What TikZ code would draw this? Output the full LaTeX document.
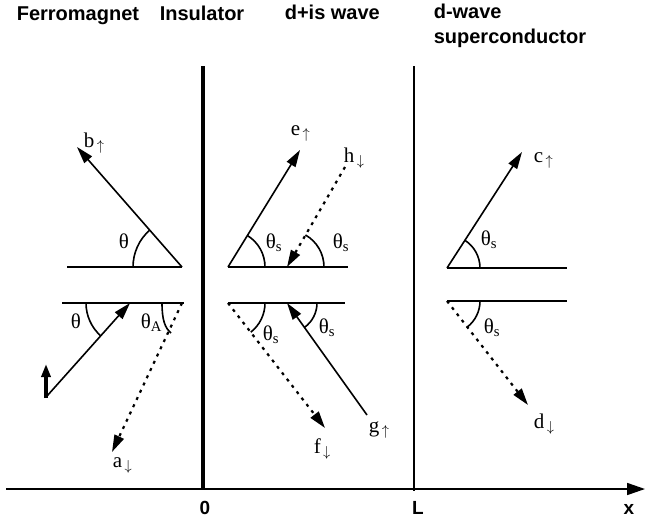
\documentclass[tikz,border=0pt]{standalone}
\usepackage{fontspec}
\setmainfont{Liberation Serif}
\setsansfont{Liberation Sans}
\usepackage{tikz}
\usetikzlibrary{arrows.meta}
\tikzset{
  ray/.style={-{Triangle[length=17pt,width=10pt]}, line width=1.6pt},
  dotted ray/.style={ray, line width=2.2pt, dash pattern=on 3pt off 5pt},
  spin/.style={-{Triangle[length=13pt,width=9pt]}, line width=4pt},
}
\newcommand{\spinup}{\textsubscript{\,$\uparrow$}}
\newcommand{\spindn}{\textsubscript{\,$\downarrow$}}

\begin{document}
\begin{tikzpicture}[x=1pt, y=1pt, line width=1.6pt,
    region/.style={font=\sffamily\bfseries\fontsize{20}{24}\selectfont,
                   anchor=base west, inner sep=0pt},
    axislbl/.style={font=\sffamily\bfseries\fontsize{19}{22}\selectfont,
                    inner sep=0pt},
    wave/.style={font=\fontsize{21}{24}\selectfont,
                 anchor=base west, inner sep=0pt}]
  \useasboundingbox (0,0) rectangle (645,-523);
  % Headings
  \node[region] (ferro) at (16,-20)  {Ferromagnet};
  \node[region] (insul) at (159,-20) {Insulator};
  \node[region] (dis)   at (284,-19) {d+is wave};
  \node[region] (dw)    at (433,-18) {d-wave};
  \node[region] (sc)    at (433,-43) {superconductor};
  % Axis and boundaries
  \coordinate (xstart)  at (6,-489);
  \coordinate (xend)    at (645,-489);
  \coordinate (ins top) at (203,-66);
  \coordinate (ins bot) at (203,-489);
  \coordinate (L top)   at (414,-66);
  \coordinate (L bot)   at (414,-491);
  \draw[-{Triangle[length=18pt,width=12pt]}] (xstart) -- (xend);
  \draw[line width=4pt] (ins top) -- (ins bot);
  \draw (L top) -- (L bot);
  \node[axislbl] (zero) at (205,-508) {0};
  \node[axislbl] (ell)  at (418,-508) {L};
  \node[axislbl] (xlbl) at (629,-509) {x};
  % Ferromagnet side
  \coordinate (F1) at (182,-267);
  \coordinate (F2) at (130,-303);
  \coordinate (F3) at (182,-303);
  \coordinate (btip) at (77,-147);
  \coordinate (ain)  at (47,-396);
  \coordinate (atip) at (112,-452);
  \coordinate (spintop) at (46,-364);
  \draw (67,-267) -- (F1);
  \draw (62,-303) -- (184,-303);
  \draw[ray] (F1) -- (btip);
  \draw[ray] (ain) -- (F2);
  \draw[dotted ray] (F3) -- (atip);
  \draw[spin] (46,-398) -- (spintop);
  \draw ([shift={(180:49)}]F1) arc[start angle=180, end angle=131, radius=49];
  \draw ([shift={(180:44)}]F2) arc[start angle=180, end angle=228, radius=44];
  \draw (162,-303) .. controls (162,-320) and (165,-328) .. (171,-333);
  \node[wave] (b)    at (83,-147)  {b\spinup};
  \node[wave] (th1)  at (118,-248) {θ};
  \node[wave] (th2)  at (70,-328)  {θ};
  \node[wave] (thA)  at (140,-328) {θ\textsubscript{A}};
  \node[wave] (a)    at (112,-467) {a\spindn};
  % d+is wave region
  \coordinate (S1) at (228,-267);
  \coordinate (S2) at (287,-267);
  \coordinate (S3) at (228,-303);
  \coordinate (S4) at (287,-303);
  \coordinate (etip) at (300,-150);
  \coordinate (hin)  at (345,-167);
  \coordinate (ftip) at (325,-428);
  \coordinate (gin)  at (367,-415);
  \draw (S1) -- (348,-267);
  \draw (S3) -- (345,-303);
  \draw[ray] (S1) -- (etip);
  \draw[dotted ray] (hin) -- (S2);
  \draw[dotted ray] (S3) -- (ftip);
  \draw[ray] (gin) -- (S4);
  \draw ([shift={(0:37)}]S1) arc[start angle=0, end angle=58, radius=37];
  \draw ([shift={(0:37)}]S2) arc[start angle=0, end angle=60, radius=37];
  \draw ([shift={(0:37)}]S3) arc[start angle=0, end angle=-52, radius=37];
  \draw ([shift={(0:30)}]S4) arc[start angle=0, end angle=-54, radius=30];
  \node[wave] (e)    at (290,-135) {e\spinup};
  \node[wave] (h)    at (343,-162) {h\spindn};
  \node[wave] (ths1) at (265,-248) {θ\textsubscript{s}};
  \node[wave] (ths2) at (332,-248) {θ\textsubscript{s}};
  \node[wave] (ths3) at (262,-340) {θ\textsubscript{s}};
  \node[wave] (ths4) at (318,-333) {θ\textsubscript{s}};
  \node[wave] (f)    at (313,-453) {f\spindn};
  \node[wave] (g)    at (368,-432) {g\spinup};
  % d-wave superconductor
  \coordinate (D1) at (447,-268);
  \coordinate (D2) at (447,-301);
  \coordinate (ctip) at (522,-152);
  \coordinate (dtip) at (528,-405);
  \draw (D1) -- (567,-268);
  \draw (D2) -- (567,-301);
  \draw[ray] (D1) -- (ctip);
  \draw[dotted ray] (D2) -- (dtip);
  \draw ([shift={(0:33)}]D1) arc[start angle=0, end angle=57, radius=33];
  \draw ([shift={(0:33)}]D2) arc[start angle=0, end angle=-52, radius=33];
  \node[wave] (c)    at (533,-162) {c\spinup};
  \node[wave] (ths5) at (480,-245) {θ\textsubscript{s}};
  \node[wave] (ths6) at (483,-333) {θ\textsubscript{s}};
  \node[wave] (d)    at (533,-428) {d\spindn};
\end{tikzpicture}
\end{document}
